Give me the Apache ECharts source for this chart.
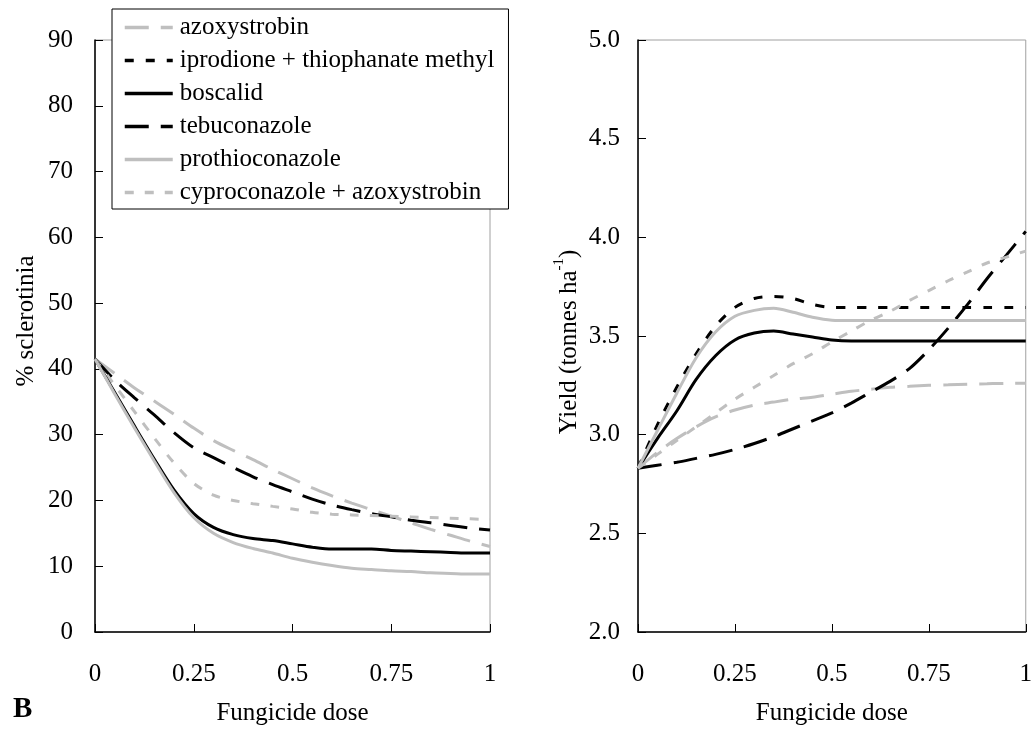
<!DOCTYPE html>
<html>
<head>
<meta charset="utf-8">
<script src="https://cdn.jsdelivr.net/npm/echarts@6/dist/echarts.min.js"></script>
<style>
html,body{margin:0;padding:0;background:#fff;}
#c{width:1035px;height:731px;}
</style>
</head>
<body>
<div id="c"></div>
<script>
// ---- data ----
const doses = [0,0.05,0.1,0.15,0.2,0.25,0.3,0.35,0.4,0.45,0.5,0.55,0.6,0.65,0.7,0.75,0.8,0.85,0.9,0.95,1];
const seriesNames = ['azoxystrobin','iprodione + thiophanate methyl','boscalid','tebuconazole','prothioconazole','cyproconazole + azoxystrobin'];
const xTicks = [0,0.25,0.5,0.75,1];

// % sclerotinia (left panel)
const sclAzoxystrobin = [41.5,39.3,37.1,35.1,33.1,31.0,29.1,27.6,26.2,24.7,23.3,21.9,20.7,19.6,18.6,17.6,16.6,15.6,14.7,13.8,13.0];
const sclBoscalid     = [41.5,36.4,31.3,26.3,21.6,18.0,15.9,14.8,14.2,13.9,13.4,12.9,12.6,12.6,12.6,12.4,12.3,12.2,12.1,12.0,12.0];
const sclTebuconazole = [41.5,38.3,35.6,33.0,30.3,28.0,26.5,25.0,23.6,22.4,21.3,20.2,19.3,18.6,18.0,17.5,17.0,16.6,16.2,15.8,15.5];
const sclProthioconazole = [41.5,36.2,31.0,26.0,21.2,17.4,15.0,13.6,12.7,12.0,11.2,10.6,10.1,9.7,9.5,9.3,9.2,9.0,8.9,8.8,8.8];
const sclCyproAzoxy   = [41.5,37.5,33.5,29.5,25.7,22.6,20.8,20.0,19.5,19.1,18.7,18.2,17.9,17.8,17.7,17.6,17.5,17.4,17.3,17.2,17.1];

// Yield (right panel)
const yldAzoxystrobin = [2.83,2.91,2.98,3.04,3.09,3.125,3.15,3.165,3.18,3.19,3.205,3.22,3.23,3.24,3.245,3.25,3.253,3.256,3.258,3.26,3.26];
const yldIprodione    = [2.83,3.05,3.24,3.41,3.55,3.645,3.69,3.70,3.69,3.66,3.645,3.645,3.645,3.645,3.645,3.645,3.645,3.645,3.645,3.645,3.645];
const yldBoscalid     = [2.83,2.98,3.12,3.28,3.40,3.48,3.515,3.525,3.51,3.495,3.48,3.475,3.475,3.475,3.475,3.475,3.475,3.475,3.475,3.475,3.475];
const yldTebuconazole = [2.83,2.845,2.86,2.88,2.90,2.925,2.955,2.99,3.03,3.07,3.11,3.16,3.215,3.27,3.335,3.43,3.54,3.66,3.79,3.91,4.03];
const yldProthioconazole = [2.83,3.02,3.21,3.39,3.52,3.60,3.63,3.64,3.62,3.595,3.58,3.578,3.578,3.578,3.578,3.578,3.578,3.578,3.578,3.578,3.578];
const yldCyproAzoxy   = [2.83,2.90,2.97,3.04,3.11,3.18,3.24,3.30,3.36,3.41,3.47,3.525,3.58,3.625,3.68,3.73,3.78,3.825,3.87,3.90,3.93];

// ---- styles ----
const GRAY = '#bfbfbf';
const FONT = '"Liberation Serif", "Times New Roman", serif';
const styles = {
  'azoxystrobin': {color: GRAY, type: [24, 12]},
  'iprodione + thiophanate methyl': {color: '#000', type: [9, 12]},
  'boscalid': {color: '#000', type: 'solid'},
  'tebuconazole': {color: '#000', type: [24, 12]},
  'prothioconazole': {color: GRAY, type: 'solid'},
  'cyproconazole + azoxystrobin': {color: GRAY, type: [9, 11]}
};
function pairs(vals){ return doses.map((d,i)=>[d, vals[i]]); }
function mk(name, vals, gi){
  const s = styles[name];
  return {
    name: name, type: 'line', xAxisIndex: gi, yAxisIndex: gi,
    data: pairs(vals), showSymbol: false, symbol: 'none', smooth: 0.3,
    color: s.color,
    lineStyle: {color: s.color, width: 3, type: s.type, cap: 'butt'},
    emphasis: {disabled: true}, animation: false
  };
}

const chart = echarts.init(document.getElementById('c'), null, {renderer: 'canvas'});
const labelStyle = {color: '#000', fontFamily: FONT, fontSize: 25};
function xAx(gi){
  return {
    type: 'value', gridIndex: gi, min: 0, max: 1, interval: 0.25,
    name: 'Fungicide dose', nameLocation: 'middle', nameGap: 69,
    nameTextStyle: {color: '#000', fontFamily: FONT, fontSize: 25},
    axisLine: {show: true, lineStyle: {color: '#000', width: 1.5}},
    axisTick: {show: true, inside: true, length: 8, lineStyle: {color: '#000', width: 1}},
    axisLabel: Object.assign({margin: 30, formatter: v => String(v)}, labelStyle),
    splitLine: {show: false}
  };
}

const option = {
  backgroundColor: '#fff',
  animation: false,
  grid: [
    {left: 95, right: 545, top: 40, bottom: 98, show: true, borderColor: '#a0a0a0', borderWidth: 1},
    {left: 638, right: 2, top: 40, bottom: 98, show: true, borderColor: '#a0a0a0', borderWidth: 1}
  ],
  xAxis: [xAx(0), xAx(1)],
  yAxis: [
    {
      type: 'value', gridIndex: 0, min: 0, max: 90, interval: 10,
      name: '% sclerotinia', nameLocation: 'middle', nameGap: 56, nameRotate: 90,
      nameTextStyle: {color: '#000', fontFamily: FONT, fontSize: 25, padding: [0, 0, 0, 30]},
      axisLine: {show: true, lineStyle: {color: '#000', width: 1.5}},
      axisTick: {show: true, inside: true, length: 8, lineStyle: {color: '#000', width: 1}},
      axisLabel: Object.assign({margin: 22}, labelStyle),
      splitLine: {show: false}
    },
    {
      type: 'value', gridIndex: 1, min: 2, max: 5, interval: 0.5,
      name: '{a|Yield (tonnes ha}{b|-1}{a|)}', nameLocation: 'middle', nameGap: 56, nameRotate: 90,
      nameTextStyle: {color: '#000', fontFamily: FONT, fontSize: 25, padding: [0, 12, 0, 0],
        rich: {
          a: {color: '#000', fontFamily: FONT, fontSize: 25, verticalAlign: 'bottom', lineHeight: 30},
          b: {color: '#000', fontFamily: FONT, fontSize: 15, verticalAlign: 'top', lineHeight: 30}
        }
      },
      axisLine: {show: true, lineStyle: {color: '#000', width: 1.5}},
      axisTick: {show: true, inside: true, length: 8, lineStyle: {color: '#000', width: 1}},
      axisLabel: Object.assign({margin: 18, formatter: v => v.toFixed(1)}, labelStyle),
      splitLine: {show: false}
    }
  ],
  legend: {
    show: true, orient: 'vertical', left: 112, top: 9,
    data: seriesNames,
    backgroundColor: '#fff', borderColor: '#000', borderWidth: 1,
    padding: [6, 14, 4, 11],
    itemWidth: 48, itemHeight: 25, itemGap: 8,
    selectedMode: false,
    itemStyle: {opacity: 0, borderWidth: 0},
    lineStyle: {width: 3.5},
    textStyle: {color: '#000', fontFamily: FONT, fontSize: 25, padding: [0,0,0,2]}
  },
  graphic: [
    {type: 'text', left: 13, top: 695, style: {text: 'B', fill: '#000', font: 'bold 29px ' + FONT}}
  ],
  series: [
    mk('azoxystrobin', sclAzoxystrobin, 0),
    mk('tebuconazole', sclTebuconazole, 0),
    mk('cyproconazole + azoxystrobin', sclCyproAzoxy, 0),
    mk('boscalid', sclBoscalid, 0),
    mk('prothioconazole', sclProthioconazole, 0),
    mk('azoxystrobin', yldAzoxystrobin, 1),
    mk('iprodione + thiophanate methyl', yldIprodione, 1),
    mk('boscalid', yldBoscalid, 1),
    mk('tebuconazole', yldTebuconazole, 1),
    mk('prothioconazole', yldProthioconazole, 1),
    mk('cyproconazole + azoxystrobin', yldCyproAzoxy, 1)
  ]
};
chart.setOption(option);
</script>
</body>
</html>
